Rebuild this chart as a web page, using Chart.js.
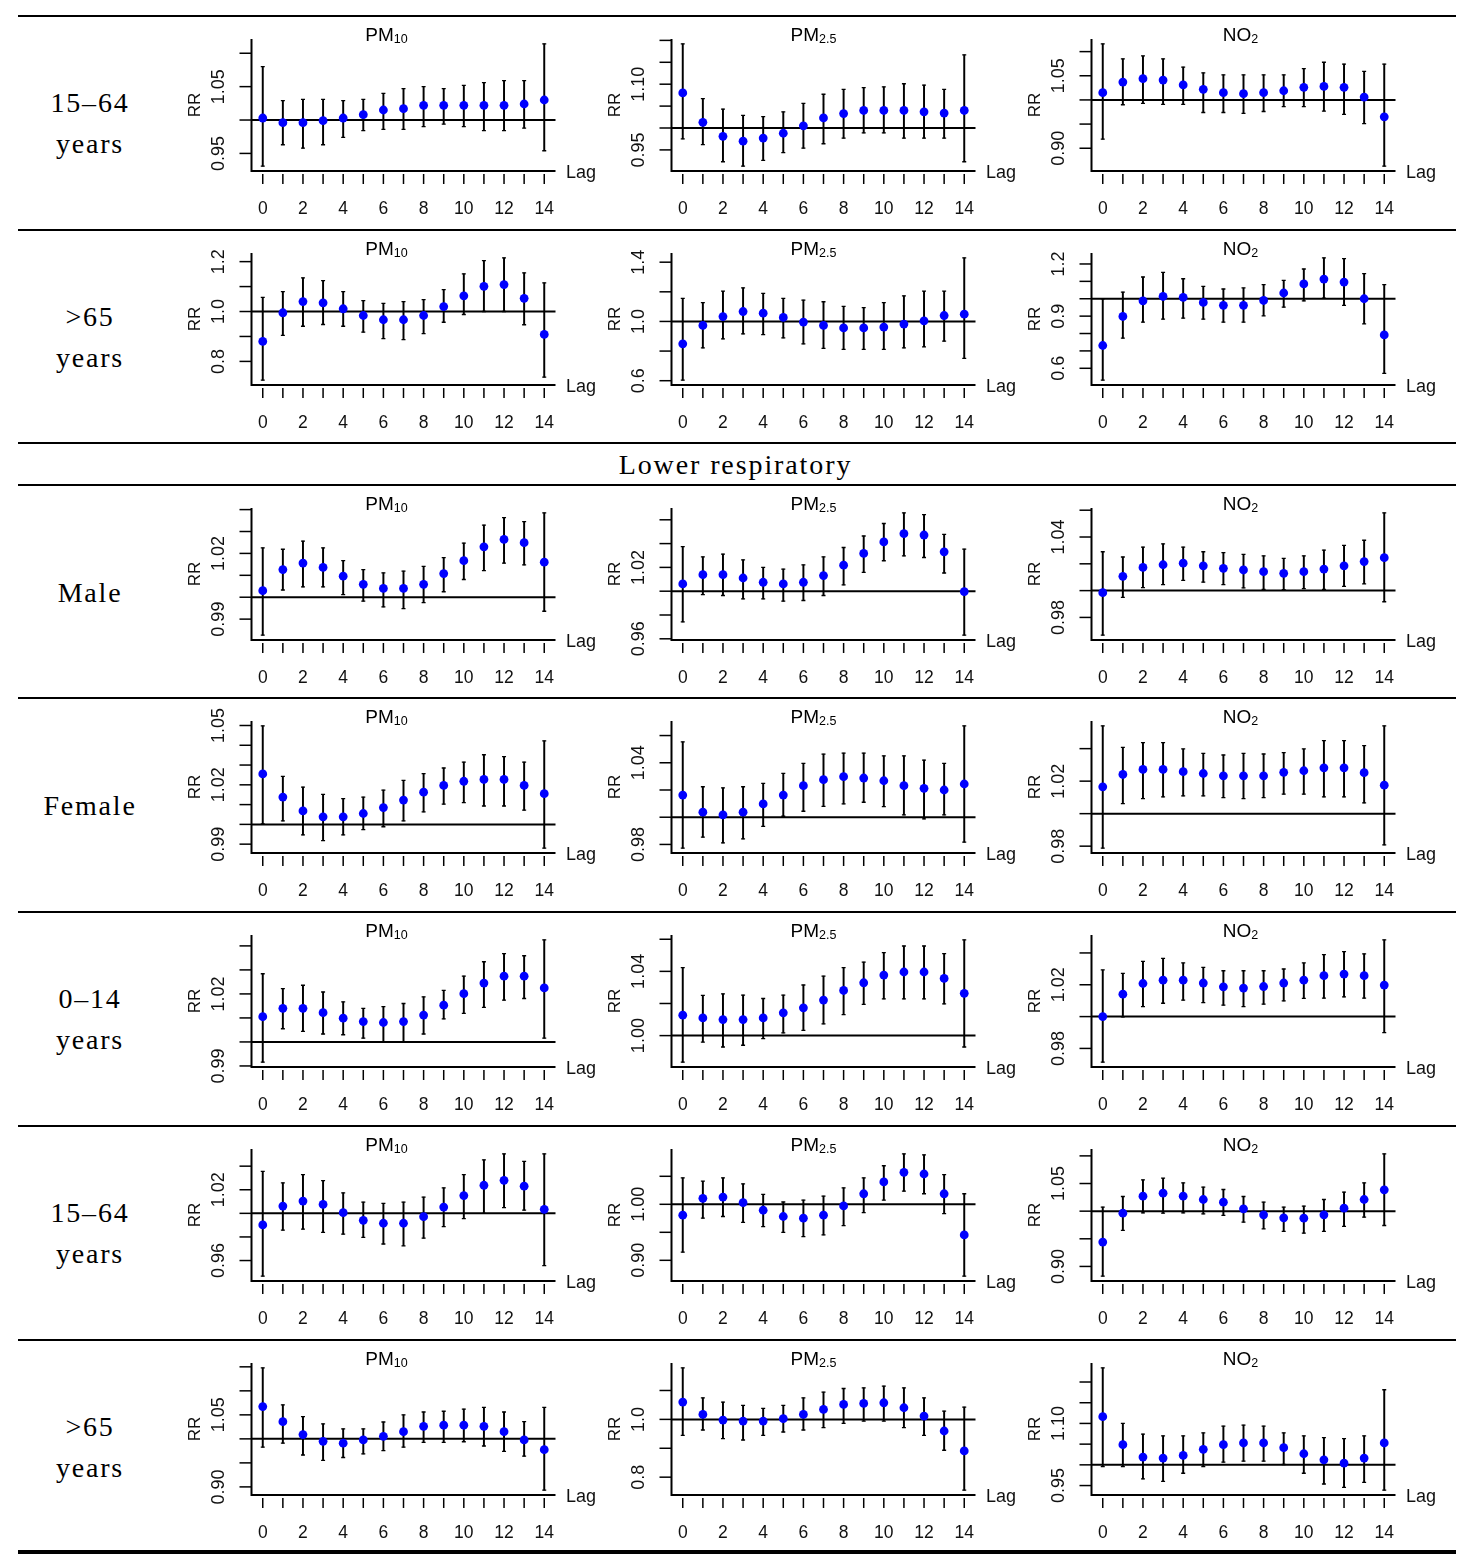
<!DOCTYPE html>
<html>
<head>
<meta charset="utf-8">
<script src="https://cdn.jsdelivr.net/npm/chart.js@4.4.0/dist/chart.umd.min.js"></script>
<style>
  body { margin: 0; background: #fff; }
  #page { position: relative; width: 1471px; height: 1568px; overflow: hidden; }
  .rule { position: absolute; left: 18px; width: 1438px; background: #000; }
  .rowlabel {
    position: absolute; left: 0; width: 180px; height: 214px;
    display: flex; align-items: center; justify-content: center; text-align: center;
    font-family: 'Liberation Serif', 'Times New Roman', serif; font-size: 28px;
    letter-spacing: 1.8px; line-height: 41px; color: #000;
  }
  .section {
    position: absolute; left: 0; width: 1471px; top: 445px; height: 40px;
    display: flex; align-items: center; justify-content: center;
    font-family: 'Liberation Serif', 'Times New Roman', serif; font-size: 28px;
    letter-spacing: 1.9px; color: #000;
  }
  canvas { position: absolute; }
</style>
</head>
<body>
<div id="page"></div>
<script>
// ---- data (RR and 95% CI by lag, rows top to bottom) ----
const lags = [0, 1, 2, 3, 4, 5, 6, 7, 8, 9, 10, 11, 12, 13, 14];
const lagTickLabels = ['0', '2', '4', '6', '8', '10', '12', '14'];
const rowNames = [['15–64', 'years'], ['>65', 'years'], ['Male'], ['Female'], ['0–14', 'years'], ['15–64', 'years'], ['>65', 'years']];
const sectionTitle = 'Lower respiratory';
const pollutantName = ['PM', 'PM', 'NO'];
const pollutantSub = ['10', '2.5', '2'];
const xAxisTitle = 'Lag';
const yAxisTitle = 'RR';

const pm10RR = [
  [1.003, 0.996, 0.996, 0.999, 1.003, 1.008, 1.015, 1.017, 1.022, 1.022, 1.022, 1.022, 1.022, 1.024, 1.030],
  [0.880, 0.995, 1.040, 1.035, 1.011, 0.984, 0.967, 0.967, 0.984, 1.020, 1.063, 1.101, 1.108, 1.053, 0.908],
  [1.0030, 1.0126, 1.0156, 1.0136, 1.0096, 1.0059, 1.0040, 1.0040, 1.0059, 1.0108, 1.0167, 1.0230, 1.0264, 1.0249, 1.0160],
  [1.0255, 1.0138, 1.0068, 1.0038, 1.0038, 1.0055, 1.0085, 1.0123, 1.0163, 1.0197, 1.0218, 1.0227, 1.0227, 1.0197, 1.0155],
  [1.0105, 1.0140, 1.0140, 1.0122, 1.0099, 1.0085, 1.0081, 1.0085, 1.0112, 1.0153, 1.0201, 1.0245, 1.0274, 1.0274, 1.0225],
  [0.9902, 1.0062, 1.0104, 1.0076, 1.0006, 0.9941, 0.9916, 0.9916, 0.9972, 1.0053, 1.0151, 1.0238, 1.0280, 1.0230, 1.0034],
  [1.0672, 1.0358, 1.0090, 0.9948, 0.9910, 0.9978, 1.0052, 1.0149, 1.0261, 1.0284, 1.0284, 1.0261, 1.0149, 0.9978, 0.9776]
];
const pm10Lo = [
  [0.931, 0.963, 0.958, 0.963, 0.974, 0.984, 0.986, 0.986, 0.990, 0.994, 0.990, 0.984, 0.984, 0.988, 0.954],
  [0.725, 0.904, 0.941, 0.948, 0.941, 0.917, 0.891, 0.887, 0.911, 0.957, 0.988, 1.000, 1.000, 0.947, 0.737],
  [0.9827, 1.0033, 1.0047, 1.0047, 1.0012, 0.9982, 0.9956, 0.9948, 0.9975, 1.0025, 1.0081, 1.0121, 1.0156, 1.0148, 0.9936],
  [1.0002, 1.0018, 0.9947, 0.9918, 0.9947, 0.9973, 0.9988, 1.0018, 1.0063, 1.0102, 1.0110, 1.0093, 1.0093, 1.0072, 0.9880],
  [0.9916, 1.0055, 1.0044, 1.0033, 1.0030, 1.0016, 1.0000, 1.0000, 1.0033, 1.0096, 1.0119, 1.0144, 1.0174, 1.0181, 1.0016],
  [0.9468, 0.9857, 0.9866, 0.9838, 0.9824, 0.9796, 0.9740, 0.9725, 0.9790, 0.9888, 0.9955, 1.0000, 1.0048, 1.0028, 0.9557],
  [0.9828, 0.9910, 0.9664, 0.9552, 0.9612, 0.9687, 0.9754, 0.9828, 0.9925, 0.9925, 0.9940, 0.9851, 0.9739, 0.9642, 0.8933]
];
const pm10Hi = [
  [1.080, 1.029, 1.031, 1.031, 1.029, 1.031, 1.040, 1.047, 1.050, 1.047, 1.052, 1.056, 1.059, 1.059, 1.114],
  [1.057, 1.080, 1.135, 1.124, 1.080, 1.044, 1.033, 1.040, 1.048, 1.088, 1.151, 1.204, 1.215, 1.155, 1.115],
  [1.0225, 1.0219, 1.0256, 1.0225, 1.0167, 1.0126, 1.0111, 1.0119, 1.0141, 1.0181, 1.0247, 1.0329, 1.0363, 1.0345, 1.0385],
  [1.0498, 1.0243, 1.0188, 1.0152, 1.0130, 1.0138, 1.0173, 1.0223, 1.0257, 1.0285, 1.0315, 1.0352, 1.0343, 1.0315, 1.0422],
  [1.0284, 1.0222, 1.0236, 1.0208, 1.0167, 1.0140, 1.0147, 1.0160, 1.0188, 1.0215, 1.0274, 1.0334, 1.0368, 1.0359, 1.0425],
  [1.0356, 1.0258, 1.0328, 1.0277, 1.0174, 1.0095, 1.0084, 1.0095, 1.0137, 1.0216, 1.0328, 1.0454, 1.0504, 1.0440, 1.0504],
  [1.1478, 1.0709, 1.0463, 1.0313, 1.0209, 1.0209, 1.0351, 1.0500, 1.0560, 1.0575, 1.0619, 1.0657, 1.0560, 1.0358, 1.0657]
];

const pm25RR = [
  [1.080, 1.013, 0.981, 0.970, 0.977, 0.988, 1.005, 1.023, 1.033, 1.040, 1.040, 1.040, 1.037, 1.034, 1.040],
  [0.849, 0.973, 1.033, 1.067, 1.056, 1.027, 0.996, 0.973, 0.956, 0.956, 0.962, 0.982, 1.004, 1.040, 1.049],
  [1.0061, 1.0139, 1.0139, 1.0111, 1.0075, 1.0061, 1.0075, 1.0131, 1.0219, 1.0317, 1.0414, 1.0483, 1.0472, 1.0331, 0.9997],
  [1.0163, 1.0037, 1.0017, 1.0037, 1.0098, 1.0163, 1.0232, 1.0276, 1.0298, 1.0288, 1.0268, 1.0232, 1.0212, 1.0200, 1.0244],
  [1.0127, 1.0110, 1.0100, 1.0100, 1.0110, 1.0142, 1.0173, 1.0221, 1.0281, 1.0329, 1.0377, 1.0396, 1.0396, 1.0356, 1.0263],
  [0.9806, 1.0106, 1.0129, 1.0029, 0.9894, 0.9782, 0.9753, 0.9806, 0.9971, 1.0188, 1.0400, 1.0571, 1.0541, 1.0188, 0.9453],
  [1.0598, 1.0172, 0.9977, 0.9943, 0.9943, 1.0023, 1.0172, 1.0345, 1.0517, 1.0552, 1.0575, 1.0402, 1.0115, 0.9598, 0.8908]
];
const pm25Lo = [
  [0.975, 0.962, 0.923, 0.913, 0.926, 0.944, 0.954, 0.964, 0.977, 0.989, 0.989, 0.977, 0.977, 0.977, 0.923],
  [0.604, 0.822, 0.882, 0.916, 0.911, 0.889, 0.849, 0.818, 0.811, 0.811, 0.811, 0.822, 0.829, 0.867, 0.751],
  [0.9742, 0.9972, 0.9964, 0.9936, 0.9936, 0.9917, 0.9922, 0.9964, 1.0053, 1.0158, 1.0256, 1.0297, 1.0283, 1.0153, 0.9631],
  [0.9773, 0.9854, 0.9812, 0.9841, 0.9932, 1.0007, 1.0044, 1.0080, 1.0098, 1.0110, 1.0078, 1.0017, 0.9988, 1.0017, 0.9817],
  [0.9835, 0.9960, 0.9929, 0.9940, 0.9981, 1.0017, 1.0033, 1.0073, 1.0131, 1.0194, 1.0229, 1.0229, 1.0229, 1.0198, 0.9929],
  [0.9147, 0.9753, 0.9782, 0.9676, 0.9600, 0.9500, 0.9424, 0.9453, 0.9618, 0.9853, 1.0076, 1.0235, 1.0188, 0.9835, 0.8718],
  [0.9448, 0.9632, 0.9333, 0.9287, 0.9448, 0.9563, 0.9632, 0.9713, 0.9862, 0.9943, 0.9943, 0.9713, 0.9448, 0.8931, 0.7552]
];
const pm25Hi = [
  [1.192, 1.067, 1.043, 1.029, 1.026, 1.037, 1.056, 1.077, 1.088, 1.092, 1.094, 1.101, 1.098, 1.088, 1.167],
  [1.156, 1.127, 1.204, 1.227, 1.189, 1.156, 1.144, 1.133, 1.102, 1.093, 1.127, 1.173, 1.204, 1.204, 1.429],
  [1.0375, 1.0289, 1.0311, 1.0264, 1.0200, 1.0186, 1.0222, 1.0289, 1.0367, 1.0464, 1.0569, 1.0658, 1.0644, 1.0478, 1.0353],
  [1.0554, 1.0224, 1.0215, 1.0224, 1.0249, 1.0322, 1.0395, 1.0463, 1.0471, 1.0471, 1.0451, 1.0451, 1.0420, 1.0395, 1.0671],
  [1.0423, 1.0250, 1.0260, 1.0252, 1.0231, 1.0252, 1.0315, 1.0371, 1.0423, 1.0458, 1.0517, 1.0558, 1.0558, 1.0510, 1.0596],
  [1.0471, 1.0412, 1.0471, 1.0365, 1.0176, 1.0041, 1.0076, 1.0147, 1.0294, 1.0471, 1.0688, 1.0900, 1.0882, 1.0529, 1.0188],
  [1.1782, 1.0747, 1.0598, 1.0483, 1.0379, 1.0483, 1.0747, 1.0943, 1.1069, 1.1092, 1.1149, 1.1092, 1.0747, 1.0287, 1.0425]
];

const no2RR = [
  [1.015, 1.037, 1.044, 1.041, 1.031, 1.022, 1.015, 1.013, 1.015, 1.019, 1.026, 1.028, 1.026, 1.006, 0.965],
  [0.731, 0.898, 0.988, 1.013, 1.008, 0.979, 0.962, 0.962, 0.990, 1.033, 1.085, 1.113, 1.096, 1.000, 0.792],
  [0.9985, 1.0107, 1.0173, 1.0193, 1.0205, 1.0185, 1.0166, 1.0154, 1.0141, 1.0129, 1.0141, 1.0161, 1.0185, 1.0217, 1.0246],
  [1.0165, 1.0241, 1.0272, 1.0272, 1.0258, 1.0247, 1.0233, 1.0233, 1.0233, 1.0254, 1.0264, 1.0282, 1.0282, 1.0252, 1.0175],
  [1.0000, 1.0141, 1.0208, 1.0229, 1.0229, 1.0211, 1.0187, 1.0179, 1.0189, 1.0211, 1.0229, 1.0257, 1.0267, 1.0257, 1.0198],
  [0.9440, 0.9964, 1.0271, 1.0325, 1.0271, 1.0211, 1.0163, 1.0042, 0.9934, 0.9880, 0.9873, 0.9934, 1.0054, 1.0211, 1.0386],
  [1.1163, 1.0488, 1.0187, 1.0163, 1.0228, 1.0374, 1.0488, 1.0528, 1.0528, 1.0415, 1.0268, 1.0122, 1.0041, 1.0163, 1.0528]
];
const no2Lo = [
  [0.919, 0.990, 0.993, 0.991, 0.991, 0.974, 0.974, 0.972, 0.976, 0.986, 0.986, 0.977, 0.970, 0.951, 0.863],
  [0.532, 0.773, 0.865, 0.883, 0.888, 0.883, 0.865, 0.865, 0.902, 0.952, 0.988, 1.004, 0.962, 0.856, 0.571],
  [0.9668, 0.9949, 1.0022, 1.0044, 1.0076, 1.0063, 1.0044, 1.0020, 1.0010, 1.0007, 1.0015, 1.0010, 1.0032, 1.0051, 0.9917],
  [0.9788, 1.0062, 1.0093, 1.0103, 1.0109, 1.0109, 1.0099, 1.0093, 1.0099, 1.0120, 1.0120, 1.0103, 1.0103, 1.0066, 0.9808],
  [0.9714, 0.9998, 1.0063, 1.0084, 1.0103, 1.0088, 1.0072, 1.0063, 1.0078, 1.0099, 1.0114, 1.0116, 1.0124, 1.0116, 0.9899],
  [0.8825, 0.9651, 0.9970, 0.9964, 0.9970, 0.9952, 0.9922, 0.9801, 0.9681, 0.9633, 0.9602, 0.9633, 0.9723, 0.9892, 0.9741],
  [0.9959, 0.9959, 0.9659, 0.9602, 0.9797, 0.9959, 1.0065, 1.0089, 1.0089, 1.0008, 0.9797, 0.9537, 0.9455, 0.9577, 0.9390]
];
const no2Hi = [
  [1.116, 1.085, 1.091, 1.085, 1.068, 1.056, 1.052, 1.052, 1.052, 1.052, 1.065, 1.078, 1.074, 1.059, 1.074],
  [1.000, 1.038, 1.125, 1.152, 1.115, 1.071, 1.056, 1.062, 1.081, 1.106, 1.171, 1.235, 1.231, 1.144, 1.081],
  [1.0290, 1.0251, 1.0324, 1.0349, 1.0324, 1.0290, 1.0283, 1.0271, 1.0259, 1.0241, 1.0259, 1.0302, 1.0337, 1.0376, 1.0580],
  [1.0540, 1.0408, 1.0437, 1.0437, 1.0398, 1.0371, 1.0361, 1.0371, 1.0367, 1.0375, 1.0398, 1.0449, 1.0449, 1.0419, 1.0540],
  [1.0293, 1.0272, 1.0347, 1.0366, 1.0337, 1.0309, 1.0288, 1.0288, 1.0288, 1.0299, 1.0337, 1.0389, 1.0408, 1.0394, 1.0482],
  [1.0072, 1.0265, 1.0566, 1.0596, 1.0512, 1.0434, 1.0392, 1.0265, 1.0163, 1.0072, 1.0090, 1.0211, 1.0343, 1.0512, 1.1036],
  [1.2341, 1.1000, 1.0740, 1.0699, 1.0699, 1.0772, 1.0935, 1.0959, 1.0935, 1.0772, 1.0699, 1.0659, 1.0634, 1.0699, 1.1813]
];

// y tick spacing and which ticks carry a label, per row, per pollutant
const yStep = [
  [0.05, 0.05, 0.05], [0.1, 0.2, 0.1], [0.01, 0.02, 0.02], [0.01, 0.02, 0.02],
  [0.01, 0.02, 0.02], [0.02, 0.05, 0.05], [0.05, 0.1, 0.05]
];
const yLabels = [
  [['0.95', '1.05'], ['0.95', '1.10'], ['0.90', '1.05']],
  [['0.8', '1.0', '1.2'], ['0.6', '1.0', '1.4'], ['0.6', '0.9', '1.2']],
  [['0.99', '1.02'], ['0.96', '1.02'], ['0.98', '1.04']],
  [['0.99', '1.02', '1.05'], ['0.98', '1.04'], ['0.98', '1.02']],
  [['0.99', '1.02'], ['1.00', '1.04'], ['0.98', '1.02']],
  [['0.96', '1.02'], ['0.90', '1.00'], ['0.90', '1.05']],
  [['0.90', '1.05'], ['0.8', '1.0'], ['0.95', '1.10']]
];

// ---- layout ----
const rowTop = [16, 230, 485, 698, 912, 1126, 1340];
const ruleTop = [16, 230, 443, 485, 698, 912, 1126, 1340];
const titleShift = [-17, -10, -3];
const sans = "'Liberation Sans', Arial, sans-serif";

const page = document.getElementById('page');

ruleTop.forEach(y => {
  const d = document.createElement('div');
  d.className = 'rule';
  d.style.top = (y - 1) + 'px';
  d.style.height = '2px';
  page.appendChild(d);
});
const bottomRule = document.createElement('div');
bottomRule.className = 'rule';
bottomRule.style.top = '1550px';
bottomRule.style.height = '4px';
page.appendChild(bottomRule);

const sec = document.createElement('div');
sec.className = 'section';
sec.textContent = sectionTitle;
page.appendChild(sec);

rowNames.forEach((lines, r) => {
  const d = document.createElement('div');
  d.className = 'rowlabel';
  d.style.top = rowTop[r] + 'px';
  const inner = document.createElement('div');
  lines.forEach((t, i) => {
    if (i) inner.appendChild(document.createElement('br'));
    inner.appendChild(document.createTextNode(t));
  });
  d.appendChild(inner);
  page.appendChild(d);
});

// R default: data range of the intervals widened by 4% on each side
function rRange(lo, hi) {
  const a = Math.min(...lo), b = Math.max(...hi), pad = (b - a) * 0.04;
  return [a - pad, b + pad];
}

function tickValues(min, max, step) {
  const out = [];
  for (let k = Math.ceil(min / step - 1e-9); k * step <= max + 1e-9; k++) out.push(+(k * step).toFixed(4));
  return out;
}

// R-style L frame, ticks and labels drawn against the chart's scales
function rFrame(r, c, ticks) {
  return {
    id: 'rFrame',
    beforeDatasetsDraw(chart) {
      const { ctx, chartArea: ca, scales: { x, y } } = chart;
      ctx.save();
      ctx.strokeStyle = '#000';
      ctx.lineWidth = 2;
      ctx.beginPath();
      ctx.moveTo(ca.left, ca.top);
      ctx.lineTo(ca.left, ca.bottom);
      ctx.lineTo(ca.right, ca.bottom);
      ctx.stroke();
      const y1 = y.getPixelForValue(1);
      ctx.beginPath();
      ctx.moveTo(ca.left, y1);
      ctx.lineTo(ca.right, y1);
      ctx.stroke();
      ctx.lineWidth = 1.5;
      ticks.forEach(v => {
        const py = y.getPixelForValue(v);
        ctx.beginPath();
        ctx.moveTo(ca.left - 12, py);
        ctx.lineTo(ca.left, py);
        ctx.stroke();
      });
      lags.forEach(l => {
        const px = x.getPixelForValue(l);
        ctx.beginPath();
        ctx.moveTo(px, ca.bottom + 3);
        ctx.lineTo(px, ca.bottom + 13);
        ctx.stroke();
      });
      ctx.restore();
    },
    afterDraw(chart) {
      const { ctx, chartArea: ca, scales: { x, y } } = chart;
      ctx.save();
      ctx.fillStyle = '#111';
      ctx.font = '17.5px ' + sans;
      ctx.textAlign = 'center';
      ctx.textBaseline = 'alphabetic';
      lagTickLabels.forEach(t => ctx.fillText(t, x.getPixelForValue(Number(t)), ca.bottom + 43));

      ctx.font = '18px ' + sans;
      ctx.textAlign = 'left';
      ctx.fillText(xAxisTitle, ca.right + 10.5, ca.bottom + 6.5);

      ticks.forEach(v => {
        const lab = yLabels[r][c].find(s => Math.abs(Number(s) - v) < 1e-6);
        if (!lab) return;
        ctx.save();
        ctx.translate(ca.left - 27.5, y.getPixelForValue(v));
        ctx.rotate(-Math.PI / 2);
        ctx.textAlign = 'center';
        ctx.fillText(lab, 0, 0);
        ctx.restore();
      });

      ctx.save();
      ctx.font = '17px ' + sans;
      ctx.translate(ca.left - 52, (ca.top + ca.bottom) / 2);
      ctx.rotate(-Math.PI / 2);
      ctx.textAlign = 'center';
      ctx.fillText(yAxisTitle, 0, 0);
      ctx.restore();

      ctx.fillStyle = '#000';
      ctx.font = '19px ' + sans;
      const w1 = ctx.measureText(pollutantName[c]).width;
      ctx.font = '12.5px ' + sans;
      const w2 = ctx.measureText(pollutantSub[c]).width;
      const left = (ca.left + ca.right) / 2 + titleShift[c] - (w1 + w2) / 2;
      ctx.textAlign = 'left';
      ctx.font = '19px ' + sans;
      ctx.fillText(pollutantName[c], left, ca.top + 2);
      ctx.font = '12.5px ' + sans;
      ctx.fillText(pollutantSub[c], left + w1, ca.top + 3.5);
      ctx.restore();
    }
  };
}

const series = [[pm10RR, pm10Lo, pm10Hi], [pm25RR, pm25Lo, pm25Hi], [no2RR, no2Lo, no2Hi]];

for (let r = 0; r < rowTop.length; r++) {
  for (let c = 0; c < 3; c++) {
    const rr = series[c][0][r], lo = series[c][1][r], hi = series[c][2][r];
    const [yMin, yMax] = rRange(lo, hi);
    const ticks = tickValues(yMin, yMax, yStep[r][c]);

    const canvas = document.createElement('canvas');
    canvas.width = 420;
    canvas.height = 214;
    canvas.style.left = (180 + 420 * c) + 'px';
    canvas.style.top = rowTop[r] + 'px';
    page.appendChild(canvas);

    new Chart(canvas, {
      type: 'bar',
      data: {
        datasets: [
          {
            type: 'bar',
            data: lags.map((l, i) => ({ x: l, y: [lo[i], hi[i]] })),
            backgroundColor: '#000',
            borderWidth: 0,
            barThickness: 1.3,
            order: 3
          },
          {
            type: 'line',
            showLine: false,
            data: lags.map((l, i) => ({ x: l, y: lo[i] })),
            pointStyle: 'line',
            pointRadius: 2,
            pointBorderColor: '#000',
            pointBorderWidth: 1.3,
            order: 2
          },
          {
            type: 'line',
            showLine: false,
            data: lags.map((l, i) => ({ x: l, y: hi[i] })),
            pointStyle: 'line',
            pointRadius: 2,
            pointBorderColor: '#000',
            pointBorderWidth: 1.3,
            order: 2
          },
          {
            type: 'line',
            showLine: false,
            data: lags.map((l, i) => ({ x: l, y: rr[i] })),
            pointRadius: 4.4,
            pointBackgroundColor: '#0000ff',
            pointBorderColor: '#0000ff',
            pointBorderWidth: 0,
            order: 0
          }
        ]
      },
      options: {
        responsive: false,
        animation: false,
        events: [],
        layout: { padding: { left: 71.5, right: 44.5, top: 23, bottom: 59 } },
        plugins: { legend: { display: false }, tooltip: { enabled: false } },
        scales: {
          x: { type: 'linear', min: -0.56, max: 14.56, offset: false, display: false },
          y: { type: 'linear', min: yMin, max: yMax, display: false }
        }
      },
      plugins: [rFrame(r, c, ticks)]
    });
  }
}
</script>
</body>
</html>
